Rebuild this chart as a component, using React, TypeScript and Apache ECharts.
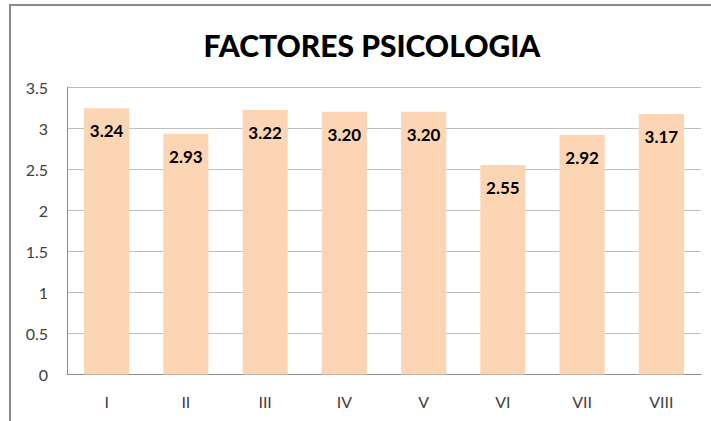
import React, { useEffect, useRef } from "react";
import * as echarts from "echarts";

const categories = ["I", "II", "III", "IV", "V", "VI", "VII", "VIII"];
const values = [3.24, 2.93, 3.22, 3.2, 3.2, 2.55, 2.92, 3.17];
const yTicks = { min: 0, max: 3.5, interval: 0.5 };
const titleText = "FACTORES PSICOLOGIA";

export default function App() {
  const ref = useRef<HTMLDivElement>(null);
  useEffect(() => {
    if (!ref.current) return;
    const chart = echarts.init(ref.current, undefined, { renderer: "svg" });
    chart.setOption({
      animation: false,
      backgroundColor: "#ffffff",
      title: {
        text: titleText,
        left: 367,
        top: 25,
        textAlign: "center",
        textStyle: {
          fontFamily: "Lato",
          fontWeight: 900,
          fontSize: 30,
          color: "#000000",
        },
      },
      graphic: [
        {
          type: "polyline",
          shape: { points: [[10, 421], [10, 5], [711, 5]] },
          style: { stroke: "#8a8a8a", lineWidth: 2, fill: "none" },
          silent: true,
        },
      ],
      grid: { left: 67, right: 10, top: 87, bottom: 46.5, containLabel: false },
      xAxis: {
        type: "category",
        data: categories,
        axisLine: { show: true, lineStyle: { color: "#8c8c8c", width: 1 } },
        axisTick: { show: false },
        axisLabel: {
          margin: 19,
          fontFamily: "Lato",
          fontSize: 16,
          color: "#404040",
        },
      },
      yAxis: {
        type: "value",
        min: yTicks.min,
        max: yTicks.max,
        interval: yTicks.interval,
        axisLine: { show: true, lineStyle: { color: "#8c8c8c", width: 1 } },
        axisTick: { show: false },
        splitLine: { show: true, lineStyle: { color: "#bfbfbf", width: 1 } },
        axisLabel: {
          margin: 19,
          fontFamily: "Lato",
          fontSize: 16,
          color: "#404040",
        },
      },
      series: [
        {
          type: "bar",
          data: values,
          barCategoryGap: "43%",
          itemStyle: { color: "#fcd5b5" },
          label: {
            show: true,
            position: "insideTop",
            distance: 14,
            formatter: (p: any) => Number(p.value).toFixed(2),
            fontFamily: "Lato",
            fontWeight: "bold",
            fontSize: 17,
            color: "#000000",
          },
        },
      ],
    });
    return () => chart.dispose();
  }, []);
  return (
    <div
      ref={ref}
      style={{ position: "fixed", left: 0, top: 0, width: 711, height: 421 }}
    />
  );
}
